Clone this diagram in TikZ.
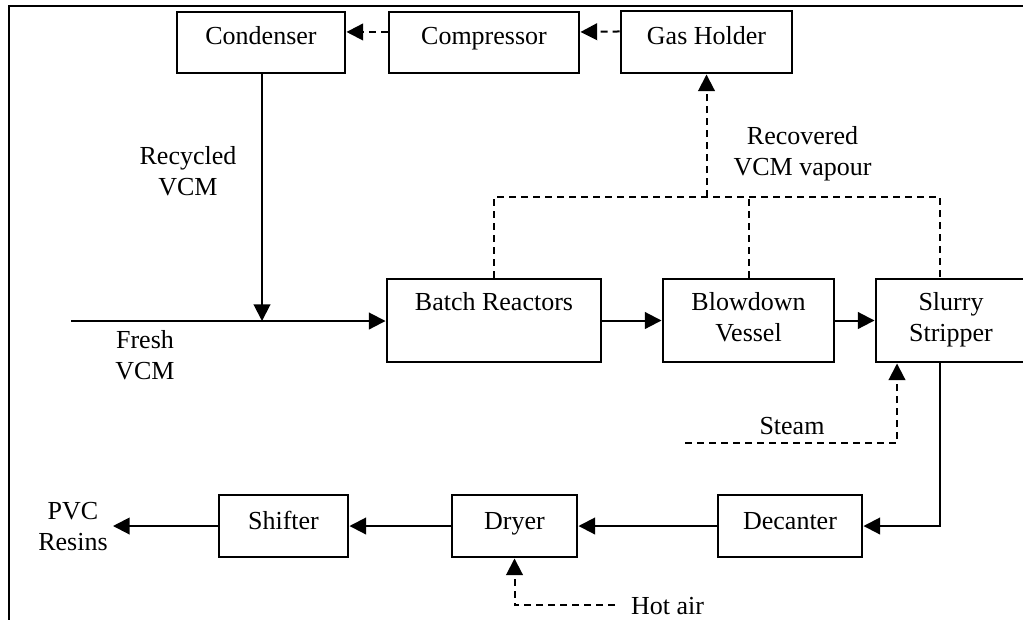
\documentclass[tikz,border=0pt]{standalone}
\usepackage{fontspec}
\setmainfont{Liberation Serif}
\usetikzlibrary{arrows.meta}
\begin{document}
\begin{tikzpicture}[x=0.75pt,y=-0.75pt,
  every node/.style={font=\fontsize{19.5}{23.25}\selectfont, inner sep=0pt},
  box/.style={draw, line width=2.2pt, align=center, text height=13pt},
  toprow/.style={box, text depth=9.9pt},
  botrow/.style={box, text depth=7.6pt},
  tworow/.style={box, text height=36.15pt, text depth=4.5pt},
  lbl/.style={align=center, text height=12.9pt, text depth=0pt},
  lbltwo/.style={align=center, text height=36.15pt, text depth=0pt},
  flow/.style={line width=1.5pt, -{Triangle[length=12.5pt,width=12.5pt]}},
  plain/.style={line width=1.5pt},
  dashflow/.style={flow, dash pattern=on 5.25pt off 3.75pt},
  dashplain/.style={plain, dash pattern=on 5.25pt off 3.75pt}]
\useasboundingbox (0,0) rectangle (1023,619);
\clip (0,0) rectangle (1023,619);
% frame
\draw[line width=1.5pt] (9,640) -- (9,6) -- (1040,6);
% boxes
\node[toprow, minimum width=126pt, minimum height=45.75pt] (cond) at (261,42.5) {Condenser};
\node[toprow, minimum width=142.5pt, minimum height=45.75pt] (comp) at (484,42.5) {Compressor};
\node[toprow, minimum width=128.25pt, minimum height=46.5pt] (gas) at (706.5,42) {Gas Holder};
\node[box, text depth=27.9pt, minimum width=160.5pt, minimum height=62.25pt] (batch) at (494,320.5) {Batch Reactors};
\node[tworow, minimum width=128.25pt, minimum height=62.25pt] (blow) at (748.5,320.5) {Blowdown\\Vessel};
\node[tworow, minimum width=112.5pt, minimum height=62.25pt] (slurry) at (951,320.5) {Slurry\\Stripper};
\node[botrow, minimum width=108pt, minimum height=46.5pt] (dec) at (790,526) {Decanter};
\node[botrow, minimum width=93.75pt, minimum height=46.5pt] (dryer) at (514.5,526) {Dryer};
\node[botrow, minimum width=96.75pt, minimum height=46.5pt] (shift) at (283.5,526) {Shifter};
% labels
\node[lbltwo] (recy) at (188,171.5) {Recycled\\VCM};
\node[lbltwo] (recov) at (802.5,151) {Recovered\\VCM vapour};
\node[lbltwo] (fresh) at (145,355.5) {Fresh\\VCM};
\node[lbl] (steam) at (792,425.5) {Steam};
\node[lbltwo] (pvc) at (73,526.5) {PVC\\Resins};
\node[lbl] (hot) at (667.5,606) {Hot air};
% coordinates
\coordinate (feed) at (71,321);
\coordinate (hub) at (706.5,197);
\coordinate (steam0) at (685,443);
\coordinate (out) at (113,526);
\coordinate (hot0) at (615,605);
% top recycle
\draw[dashflow] ([yshift=7.9pt]gas.west) -- ([yshift=7.9pt]comp.east);
\draw[dashflow] ([yshift=7.9pt]comp.west) -- ([yshift=7.9pt]cond.east);
\draw[flow] ([xshift=0.75pt]cond.south) -- ([xshift=0.75pt]cond.south |- feed);
% main line
\draw[flow] (feed) -- (feed -| batch.west);
\draw[flow] (batch.east) -- (blow.west);
\draw[flow] (blow.east) -- (slurry.west);
% vapour recovery
\draw[dashplain] (batch.north) |- (hub) -| ([xshift=-8.25pt]slurry.north);
\draw[dashplain] (blow.north) -- (blow.north |- hub);
\draw[dashflow] (hub) -- (gas.south);
% steam
\draw[dashflow] (steam0) -| ([xshift=-40.5pt]slurry.south);
% bottom line
\draw[flow] ([xshift=-8.25pt]slurry.south) |- (dec.east);
\draw[flow] (dec.west) -- (dryer.east);
\draw[flow] (dryer.west) -- (shift.east);
\draw[flow] (shift.west) -- (out);
\draw[dashflow] (hot0) -| (dryer.south);
\end{tikzpicture}
\end{document}
